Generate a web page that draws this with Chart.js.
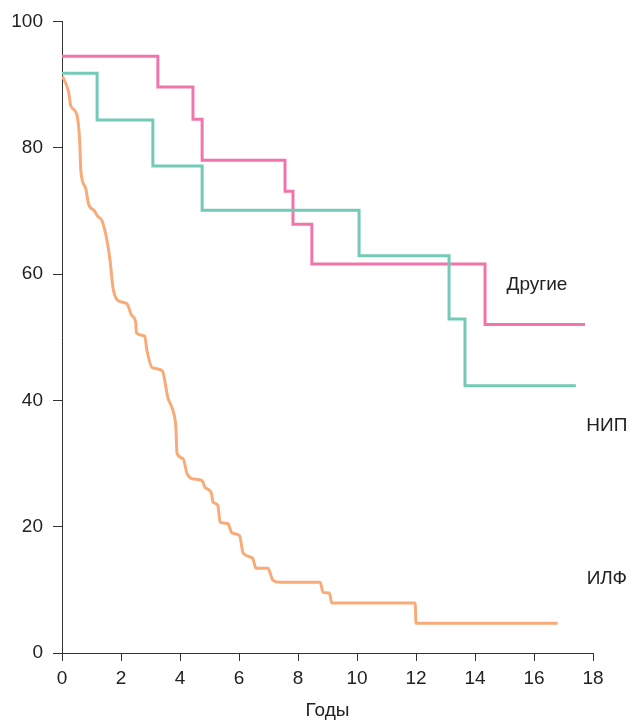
<!DOCTYPE html>
<html>
<head>
<meta charset="utf-8">
<script src="https://cdn.jsdelivr.net/npm/chart.js@4/dist/chart.umd.min.js"></script>
<style>
  html, body { margin: 0; padding: 0; background: #fff; }
  #wrap { width: 632px; height: 720px; }
</style>
</head>
<body>
<div id="wrap"><canvas id="km"></canvas></div>
<script>
// Годы (x) и доля выживших, % (y)
const otherX = [0, 3.25, 4.44, 4.75, 7.56, 7.83, 8.47, 14.34, 17.73];
const otherY = [94.5, 89.6, 84.5, 78.0, 73.1, 67.9, 61.6, 52.0, 52.0];

const nipX = [0, 1.19, 3.08, 4.75, 10.07, 13.12, 13.66, 17.42];
const nipY = [91.8, 84.4, 77.1, 70.1, 62.9, 52.9, 42.3, 42.3];

const ilfX = [0.02, 0.22, 0.3, 0.5, 0.6, 0.64, 0.8, 0.9, 1.1, 1.2, 1.36, 1.53, 1.63, 1.73, 1.9, 2.2, 2.37, 2.5, 2.52, 2.8, 2.88, 3.05, 3.4, 3.59, 3.76, 3.86, 3.9, 4.1, 4.24, 4.41, 4.75, 4.85, 5.06, 5.12, 5.28, 5.36, 5.62, 5.76, 6.02, 6.14, 6.46, 6.58, 6.98, 7.15, 7.4, 8.75, 8.85, 9.06, 9.15, 11.97, 12.0, 16.8];
const ilfY = [91.3, 88.9, 86.6, 85.3, 81.0, 76.3, 73.6, 71.1, 70.0, 69.2, 68.4, 65.2, 62.1, 57.8, 55.8, 55.3, 53.4, 52.3, 50.7, 50.2, 47.9, 45.2, 44.7, 40.4, 38.4, 35.7, 31.6, 30.8, 28.4, 27.6, 27.3, 26.2, 25.4, 23.9, 23.4, 20.7, 20.5, 19.0, 18.6, 15.8, 15.0, 13.4, 13.4, 11.5, 11.2, 11.2, 9.6, 9.5, 7.9, 7.9, 4.7, 4.7];

const xTicks = [0, 2, 4, 6, 8, 10, 12, 14, 16, 18];

// подписи кривых: [текст, x, y]
const curveLabels = [
  ['Другие', 16.1, 58.3],
  ['НИП', 18.47, 35.9],
  ['ИЛФ', 18.47, 11.7]
];

const FONT = '"Liberation Sans", Arial, sans-serif';
const toPoints = (xs, ys) => xs.map((x, i) => ({ x: x, y: ys[i] }));

const labelPlugin = {
  id: 'curveLabels',
  afterDatasetsDraw(chart) {
    const { ctx, scales } = chart;
    ctx.save();
    ctx.font = '19px ' + FONT;
    ctx.fillStyle = '#222';
    ctx.textAlign = 'center';
    ctx.textBaseline = 'middle';
    curveLabels.forEach(([t, x, y]) => {
      ctx.fillText(t, scales.x.getPixelForValue(x), scales.y.getPixelForValue(y));
    });
    ctx.restore();
  }
};

new Chart(document.getElementById('km'), {
  type: 'line',
  data: {
    datasets: [
      {
        label: 'ИЛФ',
        data: toPoints(ilfX, ilfY),
        borderColor: '#f8ab78',
        borderWidth: 3,
        pointRadius: 0,
        tension: 0.4,
        cubicInterpolationMode: 'monotone'
      },
      {
        label: 'НИП',
        data: toPoints(nipX, nipY),
        borderColor: '#74cab7',
        borderWidth: 3,
        pointRadius: 0,
        stepped: 'before'
      },
      {
        label: 'Другие',
        data: toPoints(otherX, otherY),
        borderColor: '#f175ab',
        borderWidth: 3,
        pointRadius: 0,
        stepped: 'before'
      }
    ]
  },
  options: {
    responsive: true,
    maintainAspectRatio: false,
    animation: false,
    layout: { padding: { top: 20, right: 39, left: 0, bottom: 0 } },
    plugins: { legend: { display: false }, tooltip: { enabled: false } },
    scales: {
      x: {
        type: 'linear',
        min: 0,
        max: 18,
        afterBuildTicks: (s) => { s.ticks = xTicks.map(v => ({ value: v })); },
        afterFit: (s) => { s.height = 67; },
        border: { color: '#333', width: 1 },
        grid: { drawOnChartArea: false, tickLength: 8, color: '#333' },
        ticks: { color: '#222', font: { size: 19, family: FONT }, padding: 6, maxRotation: 0 },
        title: { display: true, text: 'Годы', color: '#222', padding: { top: 6, bottom: 0 }, font: { size: 19, family: FONT, lineHeight: 1.0 } }
      },
      y: {
        min: 0,
        max: 100,
        afterFit: (s) => { s.width = 62; },
        border: { color: '#333', width: 1 },
        grid: { drawOnChartArea: false, tickLength: 9, color: '#333' },
        ticks: { stepSize: 20, color: '#222', padding: 10, font: { size: 19, family: FONT } }
      }
    }
  },
  plugins: [labelPlugin]
});
</script>
</body>
</html>
